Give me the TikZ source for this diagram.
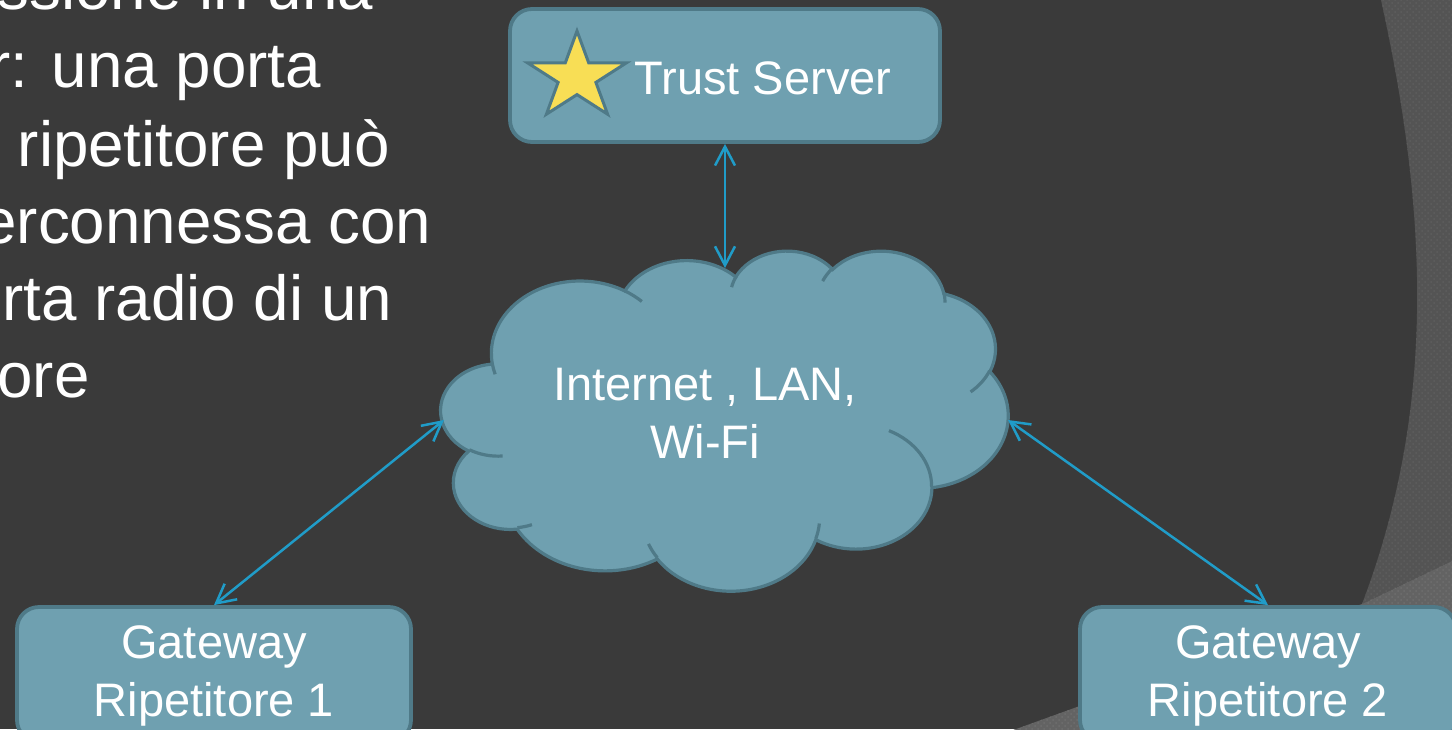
\documentclass[tikz,border=0pt]{standalone}
\usepackage{fontspec}
\setmainfont{Liberation Sans}
\usetikzlibrary{arrows.meta,patterns}
\definecolor{bg}{HTML}{3A3A3A}
\definecolor{boxfill}{HTML}{6FA0B0}
\definecolor{boxline}{HTML}{4F7A88}
\definecolor{arrowc}{HTML}{209CC8}
\definecolor{starc}{HTML}{F8DE55}
\definecolor{decoA}{HTML}{545454}
\definecolor{decoAdots}{HTML}{5E5E5E}
\definecolor{decoB}{HTML}{636363}
\definecolor{decoBdots}{HTML}{6E6E6E}
\newcommand\cloudang[5]{%
  \pgfmathsetmacro\tmpS{atan2((#2)*sin(#4),(#3)*cos(#4))}%
  \pgfmathsetmacro\tmpE{atan2((#2)*sin((#4)+(#5)),(#3)*cos((#4)+(#5)))}%
  \pgfmathsetmacro\tmpD{mod(\tmpE-\tmpS+720,360)}%
  \expandafter\let\csname ca#1s\endcsname\tmpS
  \expandafter\let\csname ca#1d\endcsname\tmpD}
\cloudang{A}{6.753}{9.190}{-190.4875}{123.7805}
\cloudang{B}{5.333}{7.267}{-144.1024}{89.9452}
\cloudang{C}{4.365}{5.945}{-145.8079}{99.7230}
\cloudang{D}{4.857}{6.595}{-130.9861}{117.2417}
\cloudang{E}{5.333}{7.273}{-78.7089}{109.0269}
\cloudang{F}{6.775}{9.220}{-46.2673}{130.2690}
\cloudang{G}{5.785}{7.867}{0.6250}{114.0333}
\cloudang{H}{6.752}{9.215}{22.4516}{115.1726}
\cloudang{I}{7.720}{10.543}{66.2426}{75.7110}
\cloudang{J}{4.360}{5.918}{-274.9421}{146.7356}
\cloudang{K}{4.345}{5.945}{-246.8285}{152.5189}
\cloudang{a}{4.345}{5.945}{86.7420}{26.4295}
\cloudang{b}{4.360}{5.918}{73.6105}{11.4475}
\cloudang{c}{6.752}{9.215}{137.6242}{14.0811}
\cloudang{d}{6.752}{9.215}{6.4533}{15.9984}
\cloudang{e}{5.785}{7.867}{-70.2924}{70.9174}
\cloudang{f}{5.333}{7.273}{30.3180}{27.7515}
\cloudang{g}{4.857}{6.595}{-13.7443}{14.8589}
\cloudang{h}{4.857}{6.595}{-149.1815}{18.1954}
\cloudang{i}{4.365}{5.945}{-163.4943}{17.6864}
\cloudang{j}{6.753}{9.190}{-66.7070}{12.3194}
\cloudang{k}{6.753}{9.190}{157.6544}{11.8582}
\tikzset{
  boxshape/.style={draw=boxline, fill=boxfill, line width=1.9pt, rounded corners=11pt, inner sep=0pt},
  bigtext/.style={text=white, inner sep=0pt, anchor=base east, font=\fontsize{31.85}{38}\selectfont},
  lbl/.style={text=white, inner sep=0pt, align=center, font=\fontsize{23.5}{29}\selectfont},
  conn/.style={draw=arrowc, line width=1.25pt, {Straight Barb[length=9.5pt,width=10pt]}-{Straight Barb[length=9.5pt,width=10pt]}},
  cloudshape/.style={draw=boxline, fill=boxfill, line width=1.6pt},
  cloudinner/.style={draw=boxline, line width=1.6pt},
  starshape/.style={draw=boxline, fill=starc, line width=1.5pt, line join=miter}
}
\begin{document}
\begin{tikzpicture}[x=0.5pt, y=-0.5pt]
\useasboundingbox (0,0) rectangle (1452,729);
\clip (0,0) rectangle (1452,729);
\fill[bg] (0,0) rectangle (1452,729);
% background decoration on the right
\fill[decoA] (1381,0) .. controls (1432,230) and (1432,420) .. (1362,604) -- (1452,561) -- (1452,0) -- cycle;
\fill[pattern=crosshatch dots, pattern color=decoAdots] (1381,0) .. controls (1432,230) and (1432,420) .. (1362,604) -- (1452,561) -- (1452,0) -- cycle;
\fill[decoB] (1452,561) -- (1362,604) -- (1005,733) -- (1452,733) -- cycle;
\fill[pattern=crosshatch dots, pattern color=decoBdots] (1452,561) -- (1362,604) -- (1005,733) -- (1452,733) -- cycle;
% left text (cut off)
\node[bigtext] (l0) at (373.5,9.5) {ssione in una};
\node[bigtext] (l1) at (321.5,87) {r: una porta};
\node[bigtext] (l2) at (390,166) {ripetitore può};
\node[bigtext] (l3) at (431.5,243) {erconnessa con};
\node[bigtext] (l4) at (392.5,320) {rta radio di un};
\node[bigtext] (l5) at (90,397) {ore};
% cloud
\begin{scope}[shift={(441,250)}, x=6.5625pt, y=-3.935pt]
\filldraw[cloudshape] (3.900,14.370)
  arc[start angle=\caAs, delta angle=\caAd, x radius=6.753, y radius=9.190]
  arc[start angle=\caBs, delta angle=\caBd, x radius=5.333, y radius=7.267]
  arc[start angle=\caCs, delta angle=\caCd, x radius=4.365, y radius=5.945]
  arc[start angle=\caDs, delta angle=\caDd, x radius=4.857, y radius=6.595]
  arc[start angle=\caEs, delta angle=\caEd, x radius=5.333, y radius=7.273]
  arc[start angle=\caFs, delta angle=\caFd, x radius=6.775, y radius=9.220]
  arc[start angle=\caGs, delta angle=\caGd, x radius=5.785, y radius=7.867]
  arc[start angle=\caHs, delta angle=\caHd, x radius=6.752, y radius=9.215]
  arc[start angle=\caIs, delta angle=\caId, x radius=7.720, y radius=10.543]
  arc[start angle=\caJs, delta angle=\caJd, x radius=4.360, y radius=5.918]
  arc[start angle=\caKs, delta angle=\caKd, x radius=4.345, y radius=5.945]
  -- cycle;
\draw[cloudinner]
  (4.693,26.177) arc[start angle=\caas, delta angle=\caad, x radius=4.345, y radius=5.945]
  (6.928,34.899) arc[start angle=\cabs, delta angle=\cabd, x radius=4.360, y radius=5.918]
  (16.478,39.090) arc[start angle=\cacs, delta angle=\cacd, x radius=6.752, y radius=9.215]
  (28.827,34.751) arc[start angle=\cads, delta angle=\cadd, x radius=6.752, y radius=9.215]
  (34.129,22.954) arc[start angle=\caes, delta angle=\caed, x radius=5.785, y radius=7.867]
  (41.798,15.354) arc[start angle=\cafs, delta angle=\cafd, x radius=5.333, y radius=7.273]
  (38.324,5.426) arc[start angle=\cags, delta angle=\cagd, x radius=4.857, y radius=6.595]
  (29.078,3.952) arc[start angle=\cahs, delta angle=\cahd, x radius=4.857, y radius=6.595]
  (22.141,4.720) arc[start angle=\cais, delta angle=\caid, x radius=4.365, y radius=5.945]
  (14.000,5.192) arc[start angle=\cajs, delta angle=\cajd, x radius=6.753, y radius=9.190]
  (4.127,15.789) arc[start angle=\caks, delta angle=\cakd, x radius=6.753, y radius=9.190];
\end{scope}
\node[lbl, anchor=base] (cloudtext) at (705,458) {Internet , LAN,\\Wi-Fi};
\coordinate (cloudtop) at (725,268);
\coordinate (cloudleft) at (444,420);
\coordinate (cloudright) at (1008,420);
% boxes
\node[boxshape, minimum width=215pt, minimum height=66.5pt] (ts) at (725,75.5) {};
\filldraw[starshape] (577,31) -- (588.7,62.8) -- (626.5,62.8) -- (595.9,82.4) -- (607.6,114.2)
  -- (577,94.6) -- (546.4,114.2) -- (558.1,82.4) -- (527.5,62.8) -- (565.3,62.8) -- cycle;
\node[lbl, anchor=base] (tstext) at (763,94) {Trust Server};
\node[boxshape, minimum width=197pt, minimum height=67.5pt] (gw1) at (214,674.5) {};
\node[lbl, anchor=base] (gw1text) at (214,716) {Gateway\\Ripetitore 1};
\node[boxshape, minimum width=188pt, minimum height=67.5pt] (gw2) at (1268,674.5) {};
\node[lbl, anchor=base] (gw2text) at (1268,716) {Gateway\\Ripetitore 2};
% connectors
\draw[conn] (ts.south) -- (cloudtop);
\draw[conn] (cloudleft) -- (gw1.north);
\draw[conn] (cloudright) -- (gw2.north);
\end{tikzpicture}
\end{document}
